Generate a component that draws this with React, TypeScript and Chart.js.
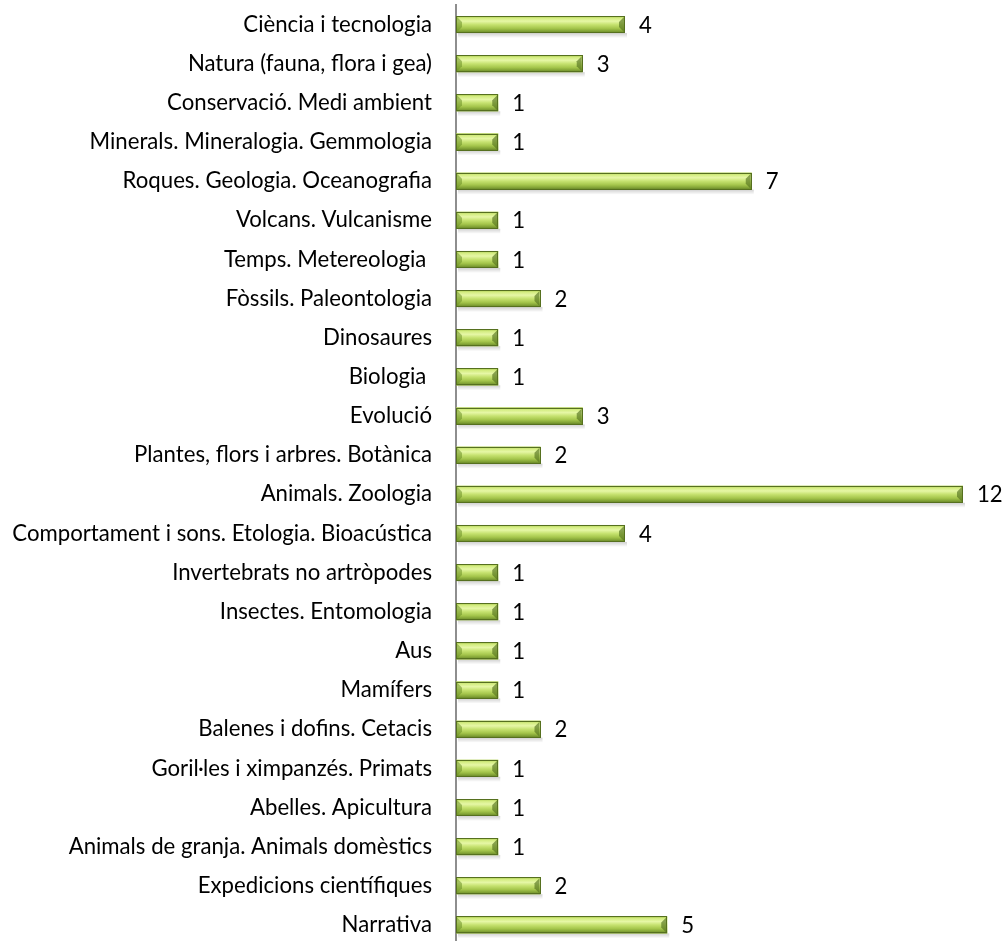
import React, { useEffect, useRef } from "react";
import { Chart, registerables } from "chart.js";

Chart.register(...registerables);

const categories: string[] = [
  "Ciència i tecnologia",
  "Natura (fauna, flora i gea)",
  "Conservació. Medi ambient",
  "Minerals. Mineralogia. Gemmologia",
  "Roques. Geologia. Oceanografia",
  "Volcans. Vulcanisme",
  "Temps. Metereologia ",
  "Fòssils. Paleontologia",
  "Dinosaures",
  "Biologia ",
  "Evolució",
  "Plantes, flors i arbres. Botànica",
  "Animals. Zoologia",
  "Comportament i sons. Etologia. Bioacústica",
  "Invertebrats no artròpodes",
  "Insectes. Entomologia",
  "Aus",
  "Mamífers",
  "Balenes i dofins. Cetacis",
  "Goril·les i ximpanzés. Primats",
  "Abelles. Apicultura",
  "Animals de granja. Animals domèstics",
  "Expedicions científiques",
  "Narrativa",
];

const values: number[] = [4, 3, 1, 1, 7, 1, 1, 2, 1, 1, 3, 2, 12, 4, 1, 1, 1, 1, 2, 1, 1, 1, 2, 5];

const FAMILY = "Lato";

function fitFontSize(): number {
  const c = document.createElement("canvas").getContext("2d");
  if (!c) return 22;
  c.font = `100px ${FAMILY}`;
  const w = c.measureText("Comportament i sons. Etologia. Bioacústica").width;
  if (!isFinite(w) || w <= 0) return 22;
  return Math.round((419 * 100 / w) * 10) / 10;
}

export default function App() {
  const ref = useRef<HTMLCanvasElement | null>(null);

  useEffect(() => {
    if (!ref.current) return;
    const fontSize = fitFontSize();

    const barDeco = {
      id: "barDeco",
      beforeDatasetsDraw(chart: any) {
        const ctx = chart.ctx;
        const meta = chart.getDatasetMeta(0);
        ctx.save();
        meta.data.forEach((el: any) => {
          const { x, y, base, height } = el.getProps(["x", "y", "base", "height"], true);
          const yb = y + height / 2;
          const g = ctx.createLinearGradient(0, yb, 0, yb + 5);
          g.addColorStop(0, "rgba(0,0,0,0.18)");
          g.addColorStop(1, "rgba(0,0,0,0)");
          ctx.fillStyle = g;
          ctx.fillRect(base + 2, yb, x - base, 5);
        });
        ctx.restore();
      },
      afterDatasetsDraw(chart: any) {
        const ctx = chart.ctx;
        const meta = chart.getDatasetMeta(0);
        ctx.save();
        meta.data.forEach((el: any, i: number) => {
          const { x, y, base, height } = el.getProps(["x", "y", "base", "height"], true);
          const top = y - height / 2;
          const bot = y + height / 2;
          const g = ctx.createLinearGradient(0, top, 0, bot);
          g.addColorStop(0, "#a6c64a");
          g.addColorStop(0.12, "#d3ec80");
          g.addColorStop(0.3, "#e6f7a6");
          g.addColorStop(0.5, "#c6e270");
          g.addColorStop(0.72, "#a5c64c");
          g.addColorStop(0.88, "#82a336");
          g.addColorStop(1, "#627f25");
          ctx.fillStyle = g;
          ctx.fillRect(base, top, x - base, bot - top);
          const t = top + 1;
          const b = bot - 1;
          const bv = 5;
          ctx.beginPath();
          ctx.moveTo(base + 1, t);
          ctx.lineTo(base + 1 + bv, t + bv);
          ctx.lineTo(base + 1 + bv, b - bv);
          ctx.lineTo(base + 1, b);
          ctx.closePath();
          ctx.fillStyle = "rgba(110,145,40,0.55)";
          ctx.fill();
          ctx.beginPath();
          ctx.moveTo(x - 1, t);
          ctx.lineTo(x - 1 - bv, t + bv);
          ctx.lineTo(x - 1 - bv, b - bv);
          ctx.lineTo(x - 1, b);
          ctx.closePath();
          ctx.fillStyle = "rgba(85,115,30,0.65)";
          ctx.fill();
          ctx.strokeStyle = "#56701f";
          ctx.lineWidth = 1;
          ctx.strokeRect(Math.round(base) + 0.5, Math.round(top) + 0.5, Math.round(x - base) - 1, Math.round(bot - top) - 1);
          ctx.fillStyle = "#000000";
          ctx.font = `${fontSize}px ${FAMILY}`;
          ctx.textAlign = "left";
          ctx.textBaseline = "middle";
          ctx.fillText(String(values[i]), x + 14, y + 1);
        });
        ctx.restore();
      },
    };

    const chart = new Chart(ref.current, {
      type: "bar",
      data: {
        labels: categories,
        datasets: [
          {
            data: values,
            backgroundColor: "#b5d35a",
            borderColor: "#56701f",
            borderWidth: 0,
            categoryPercentage: 1,
            barPercentage: 0.434,
          },
        ],
      },
      options: {
        indexAxis: "y",
        responsive: false,
        animation: false,
        devicePixelRatio: 1,
        layout: { padding: { top: 5, bottom: 1.5, left: 0, right: 42 } },
        plugins: {
          legend: { display: false },
          tooltip: { enabled: false },
          title: { display: false },
        },
        scales: {
          x: {
            display: false,
            min: 0,
            max: 12,
          },
          y: {
            afterFit: (scale: any) => {
              scale.width = 456;
              scale.paddingTop = 0;
              scale.paddingBottom = 0;
            },
            grid: { display: false, drawTicks: false },
            border: { display: true, color: "#8e8e8e", width: 2 },
            ticks: {
              color: "#000000",
              padding: 24,
              autoSkip: false,
              font: { family: FAMILY, size: fontSize },
            },
          },
        },
      },
      plugins: [barDeco],
    });

    return () => chart.destroy();
  }, []);

  return (
    <div style={{ position: "fixed", left: 0, top: 0, width: 1005, height: 946, background: "#ffffff" }}>
      <canvas ref={ref} width={1005} height={946} style={{ display: "block" }} />
    </div>
  );
}
